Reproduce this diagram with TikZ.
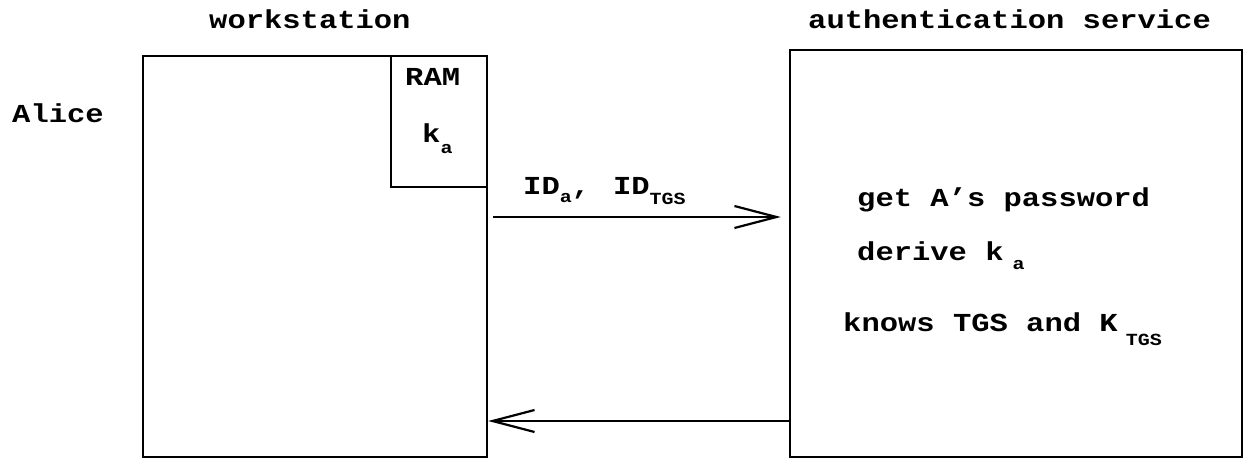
\documentclass[tikz,border=0pt]{standalone}
\usepackage{fontspec}
\setmainfont{Liberation Mono}
\usetikzlibrary{arrows.meta}
% subscript: smaller type, dropped below the baseline
\newcommand\lowsub[2]{\raisebox{-#1}{\fontsize{20}{24}\selectfont #2}}
% typewriter lettering with a low cap height
\newcommand\tw[1]{\scalebox{1}[0.85]{#1}}
\begin{document}
\begin{tikzpicture}[x=1pt,y=-1pt,
  box/.style={draw, line width=2.4pt, inner sep=0pt, minimum width=#1},
  lbl/.style={anchor=base west, inner sep=0pt, font=\fontsize{30.5}{36}\selectfont\bfseries},
  msg/.style={line width=2.2pt, -{Straight Barb[length=42pt,width=22pt,line width=2.2pt]}}]
  \useasboundingbox (0,0) rectangle (1249,462);

  % machines
  \node[box=344pt, minimum height=401pt] (ws) at (315,256.5) {};
  \node[box=96pt, minimum height=131pt] (ram) at (439,121.5) {};
  \node[box=452pt, minimum height=407pt] (as) at (1016,253.5) {};

  % headings and labels
  \node[lbl] (wst) at (209,29) {\tw{workstation}};
  \node[lbl] (ast) at (808,29) {\tw{authentication service}};
  \node[lbl] (alice) at (12,123) {\tw{Alice}};
  \node[lbl] (ramt) at (405,86) {\tw{RAM}};
  \node[lbl] (ka) at (422,143) {\tw{k\lowsub{11.8pt}{a}}};

  % messages
  \coordinate (req) at (0,217);
  \coordinate (rep) at (0,421);
  \draw[msg, shorten <=5pt, shorten >=8pt] (ws.east |- req) -- (as.west |- req);
  \draw[msg] (as.west |- rep) -- (ws.east |- rep);
  \node[lbl] (idlbl) at (523,195) {\tw{ID\lowsub{9.4pt}{a},\hspace{23pt}ID\lowsub{10.6pt}{TGS}}};

  % server steps
  \node[lbl] (s1) at (857,207) {\tw{get A’s password}};
  \node[lbl] (s2) at (857,260) {\tw{derive k\hspace{9pt}\lowsub{10.6pt}{a}}};
  \node[lbl] (s3) at (843,331) {\tw{knows TGS and K\hspace{8pt}\lowsub{17pt}{TGS}}};
\end{tikzpicture}
\end{document}
